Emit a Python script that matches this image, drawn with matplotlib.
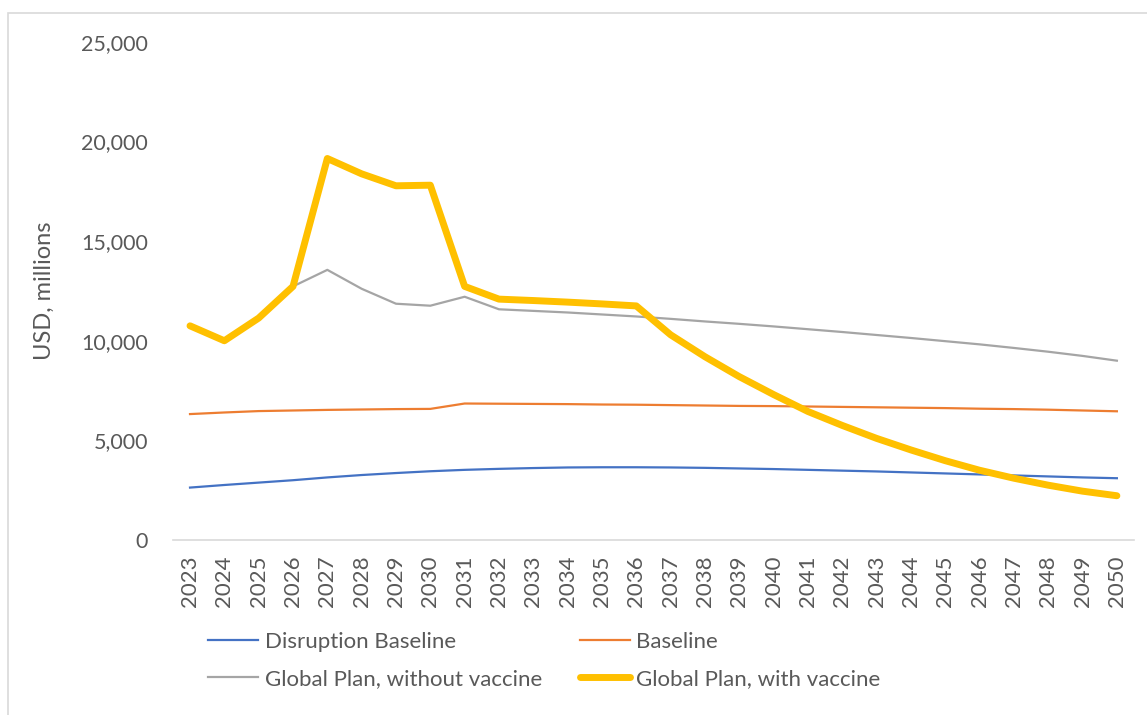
import matplotlib
matplotlib.use("Agg")
import matplotlib.pyplot as plt
from matplotlib.patches import Rectangle
from matplotlib.ticker import FuncFormatter

# ── Data (USD, millions) ─────────────────────
years = list(range(2023, 2051))

disruption_baseline = [2630, 2760, 2880, 3000, 3140, 3260, 3360, 3450, 3520, 3570,
                       3610, 3640, 3650, 3650, 3640, 3620, 3590, 3560, 3520, 3480,
                       3440, 3390, 3340, 3290, 3240, 3190, 3140, 3100]
baseline = [6320, 6400, 6470, 6500, 6530, 6550, 6570, 6580, 6850, 6840,
            6830, 6820, 6800, 6790, 6770, 6750, 6730, 6720, 6700, 6680,
            6660, 6640, 6620, 6590, 6570, 6540, 6500, 6460]
gp_without = [10750, 10000, 11140, 12730, 13560, 12610, 11860, 11760, 12210, 11580,
              11500, 11420, 11320, 11220, 11100, 10970, 10850, 10720, 10580, 10440,
              10290, 10140, 9980, 9820, 9640, 9450, 9240, 9000]
gp_with = [10750, 10000, 11140, 12730, 19150, 18380, 17780, 17810, 12730, 12090,
           12020, 11940, 11850, 11750, 10300, 9200, 8200, 7300, 6450, 5750,
           5100, 4520, 3980, 3500, 3100, 2750, 2450, 2220]

y_ticks = [0, 5000, 10000, 15000, 20000, 25000]

# ── Style ────────────────────────────────────
plt.rcParams["font.family"] = ["Lato", "DejaVu Sans"]
text_col = "#595959"

fig = plt.figure(figsize=(11.47, 7.15), dpi=100)
ax = fig.add_axes([0.1507, 0.2448, 0.8380, 0.6965])

pos = list(range(len(years)))
l1, = ax.plot(pos, disruption_baseline, color="#4472C4", lw=1.6, label="Disruption Baseline")
l2, = ax.plot(pos, baseline, color="#ED7D31", lw=1.6, label="Baseline")
l3, = ax.plot(pos, gp_without, color="#A5A5A5", lw=1.6, label="Global Plan, without vaccine")
l4, = ax.plot(pos, gp_with, color="#FFC000", lw=5.0, solid_joinstyle="round",
              solid_capstyle="round", label="Global Plan, with vaccine")

ax.set_xlim(-0.5, len(years) - 0.5)
ax.set_ylim(0, 25000)
ax.set_yticks(y_ticks)
ax.yaxis.set_major_formatter(FuncFormatter(lambda v, p: f"{int(v):,}"))
ax.set_xticks(pos)
ax.set_xticklabels([str(y) for y in years], rotation=90)

for s in ["top", "right", "left"]:
    ax.spines[s].set_visible(False)
ax.spines["bottom"].set_color("#D9D9D9")
ax.spines["bottom"].set_linewidth(1.2)
ax.tick_params(axis="y", length=0, pad=18, labelsize=15.5, labelcolor=text_col)
ax.tick_params(axis="x", length=0, pad=11, labelsize=16, labelcolor=text_col)

ax.set_ylabel("USD, millions", fontsize=17, color=text_col)
ax.yaxis.set_label_coords(-0.1226, 0.5)

fig.legend(handles=[l1, l3, l2, l4], ncol=2, loc="upper left",
           bbox_to_anchor=(0.1813, 0.116), frameon=False, fontsize=16,
           labelcolor=text_col, handlelength=2.25, handletextpad=0.3,
           columnspacing=1.7, labelspacing=0.75, borderpad=0, borderaxespad=0)

# chart-area border (left and top edges visible)
fig.add_artist(Rectangle((0.007, -0.05), 1.1, 1.05 - 0.0182, transform=fig.transFigure,
                         fill=False, edgecolor="#D9D9D9", lw=1.2))

plt.savefig("out.png", dpi=100)
